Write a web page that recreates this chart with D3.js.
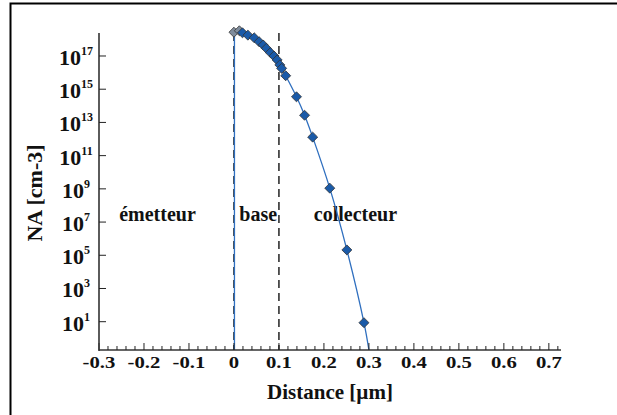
<!DOCTYPE html>
<html>
<head>
<meta charset="utf-8">
<script src="https://cdnjs.cloudflare.com/ajax/libs/d3/7.8.5/d3.min.js"></script>
<style>
    html, body { margin: 0; padding: 0; background: #fff; overflow: hidden; }
    svg { display: block; }
    text { font-family: "Liberation Serif", "Times New Roman", serif; font-weight: bold; fill: #111; }
</style>
</head>
<body>
<svg id="chart" width="617" height="415"></svg>
<script>
// doping profile (diamonds)
var distance = [0, 0.012, 0.019, 0.031, 0.045, 0.056, 0.065, 0.072, 0.081, 0.089,
    0.096, 0.102, 0.106, 0.115, 0.139, 0.157, 0.175, 0.213, 0.251, 0.289];
var dopingNA = [2.7e18, 3.3e18, 2.5e18, 1.8e18, 1.25e18, 7.2e17, 4.6e17, 2.9e17, 1.6e17, 1.0e17,
    5.8e16, 2.9e16, 1.8e16, 6.5e15, 3.5e14, 2.7e13, 1.3e12, 1.1e9, 2.1e5, 8.7];
// where the curve leaves the plot at the bottom
var curveEnd = [0.3, 0.2];

var xTicks = [-0.3, -0.2, -0.1, 0, 0.1, 0.2, 0.3, 0.4, 0.5, 0.6, 0.7];
var yExponents = [1, 3, 5, 7, 9, 11, 13, 15, 17];
var junctions = [0, 0.1];
var regionLabels = [
    {text: "émetteur", x: -0.17},
    {text: "base", x: 0.054},
    {text: "collecteur", x: 0.27}
];

var svg = d3.select("#chart");

// outer frame, only top and left edges are inside the picture
svg.append("path")
    .attr("d", "M10.5,420 V3.5 H620")
    .attr("fill", "none")
    .attr("stroke", "#000")
    .attr("stroke-width", 2);

var x = d3.scaleLinear().domain([-0.3, 0.727]).range([99, 561]);
var y = d3.scaleLog().domain([Math.pow(10, -0.704), Math.pow(10, 18.385)]).range([350, 33]);

var plot = svg.append("g");

// clip so the curve stops at the axis
svg.append("clipPath").attr("id", "clip")
    .append("rect").attr("x", 99).attr("y", 20).attr("width", 470).attr("height", 330);

// dashed junction lines
plot.selectAll("line.junction")
    .data(junctions)
    .enter()
    .append("line")
    .attr("class", "junction")
    .attr("x1", function (d) { return x(d); })
    .attr("x2", function (d) { return x(d); })
    .attr("y1", 33)
    .attr("y2", 350)
    .attr("stroke", "#000")
    .attr("stroke-width", 1.3)
    .attr("stroke-dasharray", "8,5");

// region names
plot.selectAll("text.region")
    .data(regionLabels)
    .enter()
    .append("text")
    .attr("class", "region")
    .attr("x", function (d) { return x(d.x); })
    .attr("y", 221)
    .attr("text-anchor", "middle")
    .style("font-size", "20px")
    .text(function (d) { return d.text; });

// profile curve: vertical step at x=0 then smooth fall off
var pts = distance.map(function (d, i) { return [d, dopingNA[i]]; });
var lineGen = d3.line()
    .x(function (d) { return x(d[0]); })
    .y(function (d) { return y(d[1]); })
    .curve(d3.curveCatmullRom.alpha(0.5));

plot.append("line")
    .attr("x1", x(0) + 0.5).attr("x2", x(0) + 0.5)
    .attr("y1", 350).attr("y2", y(dopingNA[0]))
    .attr("stroke", "#2f6fbf")
    .attr("stroke-width", 1.3);

plot.append("path")
    .datum(pts.concat([curveEnd]))
    .attr("clip-path", "url(#clip)")
    .attr("d", lineGen)
    .attr("fill", "none")
    .attr("stroke", "#2f6fbf")
    .attr("stroke-width", 1.3);

// diamonds
var sym = d3.symbol().type(d3.symbolDiamond2).size(64);
plot.selectAll("path.pt")
    .data(pts)
    .enter()
    .append("path")
    .attr("class", "pt")
    .attr("d", sym)
    .attr("transform", function (d) { return "translate(" + x(d[0]) + "," + y(d[1]) + ")"; })
    .attr("fill", function (d, i) { return i < 2 ? "#7f8c9c" : "#1a5aa8"; })
    .attr("stroke", "#333")
    .attr("stroke-width", 0.8);

// x axis
var xAxis = svg.append("g").attr("transform", "translate(0,350)");
xAxis.append("line")
    .attr("x1", 99).attr("x2", 561)
    .attr("stroke", "#333").attr("stroke-width", 1.6);

var minorTicks = d3.range(-30, 73, 2).map(function (d) { return d / 100; });
xAxis.selectAll("line.tick")
    .data(minorTicks)
    .enter()
    .append("line")
    .attr("class", "tick")
    .attr("x1", function (d) { return x(d); })
    .attr("x2", function (d) { return x(d); })
    .attr("y1", 0)
    .attr("y2", function (d) { return Math.abs(Math.round(d * 100) % 10) === 0 ? -7 : -4; })
    .attr("stroke", "#222")
    .attr("stroke-width", 1);

// tick labels look horizontally stretched in the original
xAxis.selectAll("text")
    .data(xTicks)
    .enter()
    .append("text")
    .attr("transform", function (d) { return "translate(" + x(d) + ",18) scale(1.22,1)"; })
    .attr("text-anchor", "middle")
    .style("font-size", "17px")
    .text(function (d) { return d === 0 ? "0" : d3.format(".1f")(d).replace("−", "-"); });

// y axis
var yAxis = svg.append("g").attr("transform", "translate(99,0)");
yAxis.append("line")
    .attr("y1", 33).attr("y2", 351)
    .attr("stroke", "#333").attr("stroke-width", 1.6);

yAxis.selectAll("line.tick")
    .data(yExponents)
    .enter()
    .append("line")
    .attr("class", "tick")
    .attr("x1", 0).attr("x2", 7)
    .attr("y1", function (d) { return y(Math.pow(10, d)); })
    .attr("y2", function (d) { return y(Math.pow(10, d)); })
    .attr("stroke", "#222");

var yLab = yAxis.selectAll("text")
    .data(yExponents)
    .enter()
    .append("text")
    .attr("x", -23)
    .attr("y", function (d) { return y(Math.pow(10, d)) + 9; })
    .attr("text-anchor", "middle")
    .style("font-size", "22px");
yLab.append("tspan").text("10");
yLab.append("tspan")
    .attr("dy", -10)
    .style("font-size", "12px")
    .text(function (d) { return d; });

// axis titles
svg.append("text")
    .attr("transform", "translate(42,193) rotate(-90)")
    .attr("text-anchor", "middle")
    .style("font-size", "22px")
    .text("NA  [cm-3]");

svg.append("text")
    .attr("x", 330)
    .attr("y", 399)
    .attr("text-anchor", "middle")
    .style("font-size", "21px")
    .text("Distance [µm]");
</script>
</body>
</html>
